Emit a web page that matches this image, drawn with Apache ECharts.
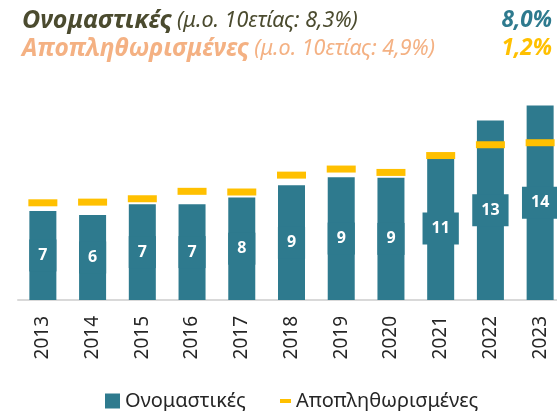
<!DOCTYPE html>
<html>
<head>
<meta charset="utf-8">
<script src="https://cdn.jsdelivr.net/npm/echarts@6/dist/echarts.min.js"></script>
<style>
  html, body { margin: 0; padding: 0; background: #fff; }
  #chart { width: 557px; height: 411px; }
</style>
</head>
<body>
<div id="chart"></div>
<script>
// years on the x axis
var years = ['2013', '2014', '2015', '2016', '2017', '2018', '2019', '2020', '2021', '2022', '2023'];
// nominal values (bars), labels shown rounded
var nominal = [6.6, 6.3, 7.1, 7.1, 7.6, 8.5, 9.1, 9.05, 10.6, 13.3, 14.4];
// inflation-adjusted values (yellow markers)
var deflated = [7.2, 7.25, 7.5, 8.05, 8.0, 9.25, 9.7, 9.45, 10.7, 11.5, 11.65];

var TEAL = '#2e7a8e';
var YELLOW = '#ffc000';
var FONT = '"Noto Sans", "Open Sans", sans-serif';

var chart = echarts.init(document.getElementById('chart'));

var option = {
  backgroundColor: '#fff',
  animation: false,
  textStyle: { fontFamily: FONT },
  title: [
    {
      left: 22, top: 7, padding: 0,
      text: '{a|Ονομαστικές} {b|(μ.ο. 10ετίας: 8,3%)}',
      textStyle: {
        rich: {
          a: { fontFamily: FONT, fontSize: 25, fontWeight: 'bold', fontStyle: 'italic', color: '#4b4b2f', lineHeight: 28 },
          b: { fontFamily: FONT, fontSize: 21.5, fontWeight: 'normal', fontStyle: 'italic', color: '#4b4b2f', lineHeight: 28 }
        }
      }
    },
    {
      left: 22, top: 35, padding: 0,
      text: '{a|Αποπληθωρισμένες} {b|(μ.ο. 10ετίας: 4,9%)}',
      textStyle: {
        rich: {
          a: { fontFamily: FONT, fontSize: 24.5, fontWeight: 'bold', fontStyle: 'italic', color: '#f4b183', lineHeight: 28 },
          b: { fontFamily: FONT, fontSize: 21.5, fontWeight: 'normal', fontStyle: 'italic', color: '#f4b183', lineHeight: 28 }
        }
      }
    },
    {
      right: 5, top: 7, padding: 0,
      text: '8,0%',
      textStyle: { fontFamily: FONT, fontSize: 22.5, fontWeight: 'bold', fontStyle: 'italic', color: TEAL, lineHeight: 28 }
    },
    {
      right: 5, top: 35, padding: 0,
      text: '1,2%',
      textStyle: { fontFamily: FONT, fontSize: 22.5, fontWeight: 'bold', fontStyle: 'italic', color: YELLOW, lineHeight: 28 }
    }
  ],
  legend: [
    {
      left: 105, top: 391, padding: 0,
      icon: 'rect', itemWidth: 15, itemHeight: 15, itemGap: 5,
      data: ['Ονομαστικές'],
      textStyle: { fontFamily: FONT, fontSize: 20, color: '#262626' }
    },
    {
      left: 280, top: 391, padding: 0,
      icon: 'rect', itemWidth: 11, itemHeight: 4,
      data: ['Αποπληθωρισμένες'],
      textStyle: { fontFamily: FONT, fontSize: 20, color: '#262626' }
    }
  ],
  grid: { left: 18, width: 547, top: 84, bottom: 111, containLabel: false, outerBoundsMode: 'none' },
  xAxis: {
    type: 'category',
    data: years,
    axisTick: { show: false },
    axisLine: { lineStyle: { color: '#d9d9d9', width: 2 } },
    axisLabel: { rotate: 90, margin: 16, fontSize: 19, color: '#262626', fontFamily: FONT }
  },
  yAxis: {
    type: 'value', min: 0, max: 16, show: false,
    splitLine: { show: false }
  },
  series: [
    {
      name: 'Ονομαστικές',
      type: 'bar',
      data: nominal,
      barWidth: 27,
      itemStyle: { color: TEAL },
      label: {
        show: true,
        position: 'inside',
        formatter: function (p) { return Math.round(p.value); },
        color: '#fff',
        fontFamily: FONT,
        fontSize: 16,
        fontWeight: 'bold',
        backgroundColor: TEAL,
        padding: [8, 9]
      }
    },
    {
      name: 'Αποπληθωρισμένες',
      type: 'scatter',
      data: deflated,
      symbol: 'rect',
      symbolSize: [29, 7],
      itemStyle: { color: YELLOW, opacity: 1 },
      z: 5
    }
  ]
};

chart.setOption(option);
</script>
</body>
</html>
